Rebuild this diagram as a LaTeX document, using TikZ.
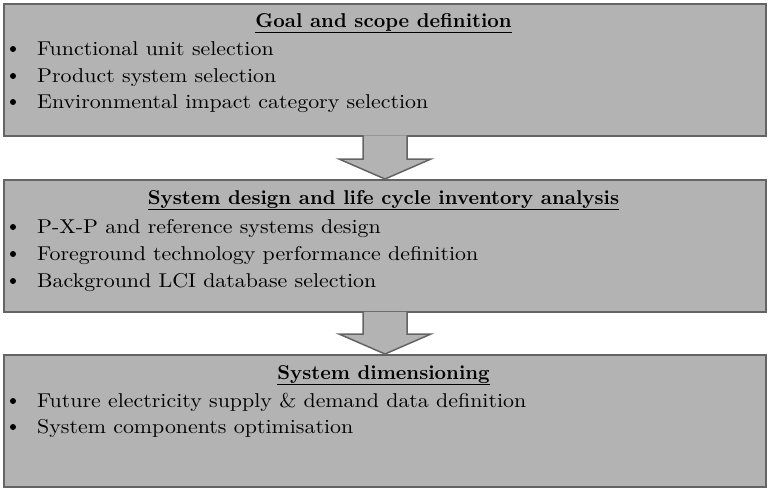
\documentclass[tikz,border=0pt]{standalone}
\usepackage{fontspec}
\usepackage{tikz}
\usetikzlibrary{positioning,calc}

\newfontfamily\entryfont{lmroman10-regular.otf}[FakeStretch=1.095]
\newfontfamily\headfont{lmroman10-bold.otf}

\definecolor{boxgray}{RGB}{179,179,179}
\definecolor{edgegray}{RGB}{100,100,100}

\tikzset{
  stage/.style={draw=edgegray, line width=2pt, fill=boxgray, minimum width=762pt,
    minimum height=132pt, anchor=north west, inner sep=0pt},
  heading/.style={anchor=base, inner sep=0pt, font=\headfont\fontsize{20}{24}\selectfont},
  entry/.style={anchor=base west, inner sep=0pt, font=\entryfont\fontsize{20}{24}\selectfont},
  dot/.style={circle, fill=black, inner sep=0pt, minimum size=6pt},
  downarrow/.style={draw=edgegray, line width=1.5pt, fill=boxgray, line join=miter}
}

\begin{document}
\begin{tikzpicture}[x=1pt,y=-1pt]
    \useasboundingbox (0,0) rectangle (768,490);

    \node[stage] (goal) at (3,2.5) {};
    \node[stage] (design) at (3,179) {};
    \node[stage] (dim) at (3,354) {};

    \draw[downarrow] ($(goal.south)+(-22,-1.2)$) -- ($(design.north)+(-22,-20)$)
      -- ($(design.north)+(-46,-20)$) -- (design.north) -- ($(design.north)+(46,-20)$)
      -- ($(design.north)+(22,-20)$) -- ($(goal.south)+(22,-1.2)$);
    \draw[downarrow] ($(design.south)+(-22,-1.2)$) -- ($(dim.north)+(-22,-20)$)
      -- ($(dim.north)+(-46,-20)$) -- (dim.north) -- ($(dim.north)+(46,-20)$)
      -- ($(dim.north)+(22,-20)$) -- ($(design.south)+(22,-1.2)$);

    \node[heading] (goalhead) at (383.5,27) {\underline{Goal and scope definition}};
    \node[dot] (goaldotA) at (13,49) {};
    \node[entry] (goalA) at (37,55) {Functional unit selection};
    \node[dot] (goaldotB) at (13,76) {};
    \node[entry] (goalB) at (37,82) {Product system selection};
    \node[dot] (goaldotC) at (13,102) {};
    \node[entry] (goalC) at (37,108) {Environmental impact category selection};

    \node[heading] (designhead) at (383.5,204) {\underline{System design and life cycle inventory analysis}};
    \node[dot] (designdotA) at (13,227) {};
    \node[entry] (designA) at (37,233) {P-X-P and reference systems design};
    \node[dot] (designdotB) at (13,254) {};
    \node[entry] (designB) at (37,260) {Foreground technology performance definition};
    \node[dot] (designdotC) at (13,281) {};
    \node[entry] (designC) at (37,287) {Background LCI database selection};

    \node[heading] (dimhead) at (383.5,379) {\underline{System dimensioning}};
    \node[dot] (dimdotA) at (13,401) {};
    \node[entry] (dimA) at (37,407) {Future electricity supply \& demand data definition};
    \node[dot] (dimdotB) at (13,427) {};
    \node[entry] (dimB) at (37,433) {System components optimisation};
  \end{tikzpicture}
\end{document}
